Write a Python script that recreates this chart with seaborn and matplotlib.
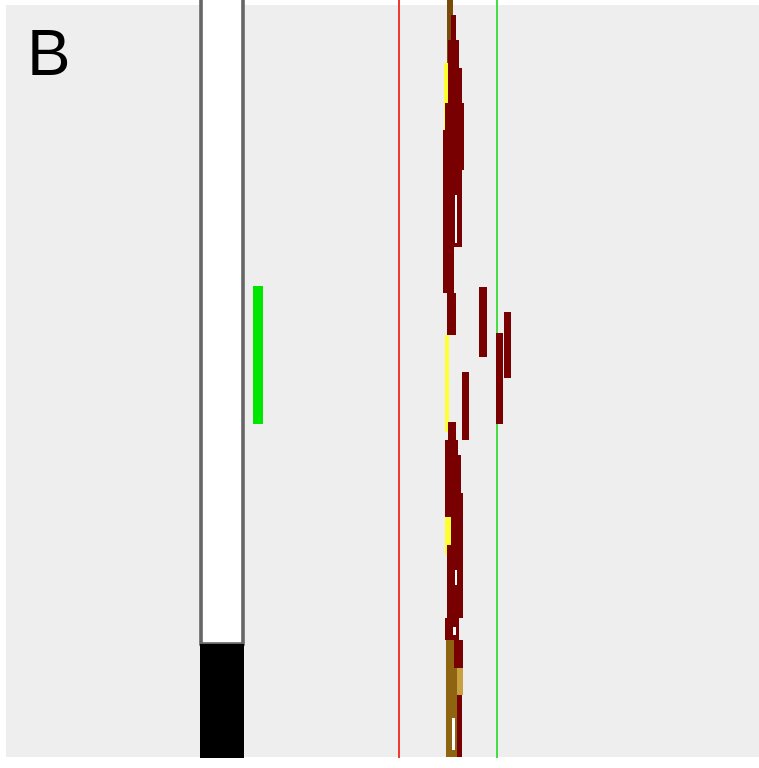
import matplotlib
matplotlib.use('Agg')
import matplotlib.pyplot as plt
import matplotlib.patches as mpatches
import seaborn as sns
import pandas as pd

# Track data (positions in view units, 0 at top of the view)
read_left = [448, 452, 445, 449, 452, 446, 444, 452, 455, 448, 446, 449, 446, 455, 450, 446, 448, 455, 446, 453,
             447, 455, 457, 458, 452,
             480, 505, 497, 463]
read_right = [452, 455, 449, 458, 461, 463, 453, 461, 457, 455, 448, 455, 457, 460, 462, 450, 462, 457, 458, 456,
              460, 462, 462, 461, 455,
              486, 510, 502, 468]
read_top = [0, 15, 63, 40, 68, 103, 130, 190, 195, 293, 335, 422, 440, 455, 493, 517, 545, 570, 618, 627,
            640, 640, 668, 695, 718,
            287, 312, 333, 372]
read_bottom = [63, 63, 130, 130, 190, 170, 293, 247, 243, 335, 432, 445, 517, 517, 600, 555, 618, 585, 640, 635,
               757, 668, 695, 757, 750,
               357, 378, 424, 440]
read_kind = ['brown', 'mismatch', 'gap', 'mismatch', 'mismatch', 'mismatch', 'mismatch', 'mismatch', 'blank',
             'mismatch', 'gap', 'mismatch', 'mismatch', 'mismatch', 'mismatch', 'gap', 'mismatch', 'blank',
             'mismatch', 'blank', 'ochre', 'mismatch', 'light', 'mismatch', 'blank',
             'mismatch', 'mismatch', 'mismatch', 'mismatch']

kind_colors = {'mismatch': '#780000', 'brown': '#7a4a0a', 'gap': '#ffff33', 'blank': '#ffffff',
               'ochre': '#8f6410', 'light': '#c8a040'}
# blank/gap strokes stay thin, filled reads get a small pad
kind_pad = {'mismatch': 1.2, 'brown': 1.0, 'gap': 0.6, 'blank': 0.0, 'ochre': 1.0, 'light': 0.5}

# Coverage bar: filled part and unfilled part
cov_left, cov_right = 201, 243
cov_empty = (-5, 644)
cov_filled = (644, 758)

# Feature mark next to the coverage bar
feature_left, feature_right = 253, 263
feature_top, feature_bottom = 286, 424

# Guide lines
guide_x = [399, 497]
guide_colors = ['#ee3a33', '#44dd44']

reads = pd.DataFrame({'left': read_left, 'right': read_right, 'top': read_top,
                      'bottom': read_bottom, 'kind': read_kind})
reads['pad'] = reads['kind'].map(kind_pad)
reads['width'] = reads['right'] - reads['left'] + 2 * reads['pad']
reads['center'] = (reads['right'] + reads['left']) / 2
reads['height'] = reads['bottom'] - reads['top']

sns.set_theme(style='white')
plt.rcParams['font.family'] = ['Liberation Sans', 'DejaVu Sans']

fig = plt.figure(figsize=(7.59, 7.68), dpi=100)
fig.patch.set_facecolor('white')
ax = fig.add_axes([0, 0, 1, 1])
ax.set_xlim(0, 759)
ax.set_ylim(768, 0)
ax.axis('off')

# panel background
ax.add_patch(mpatches.Rectangle((6, 5), 760, 752, facecolor='#eeeeee', edgecolor='none', zorder=0))

# coverage bar
ax.bar((cov_left + cov_right) / 2, cov_empty[1] - cov_empty[0], bottom=cov_empty[0],
       width=cov_right - cov_left, color='white', edgecolor='#666666', linewidth=2.6, zorder=2)
ax.bar((cov_left + cov_right) / 2, cov_filled[1] - cov_filled[0], bottom=cov_filled[0],
       width=cov_right - cov_left + 1.5, color='black', edgecolor='none', zorder=3)

# feature
ax.bar((feature_left + feature_right) / 2, feature_bottom - feature_top, bottom=feature_top,
       width=feature_right - feature_left, color='#00e600', edgecolor='none', zorder=2)

# guide lines
for gx, gc in zip(guide_x, guide_colors):
    ax.bar(gx, 758, bottom=0, width=2.8, color=gc, edgecolor='none', zorder=2)

# reads
for _, r in reads.iterrows():
    ax.bar(r['center'], r['height'], bottom=r['top'], width=r['width'],
           color=kind_colors[r['kind']], edgecolor='none', zorder=4)

ax.text(27, 75, 'B', fontsize=47, color='black', ha='left', va='baseline', zorder=5)

plt.savefig('out.png', dpi=100)
plt.close()
